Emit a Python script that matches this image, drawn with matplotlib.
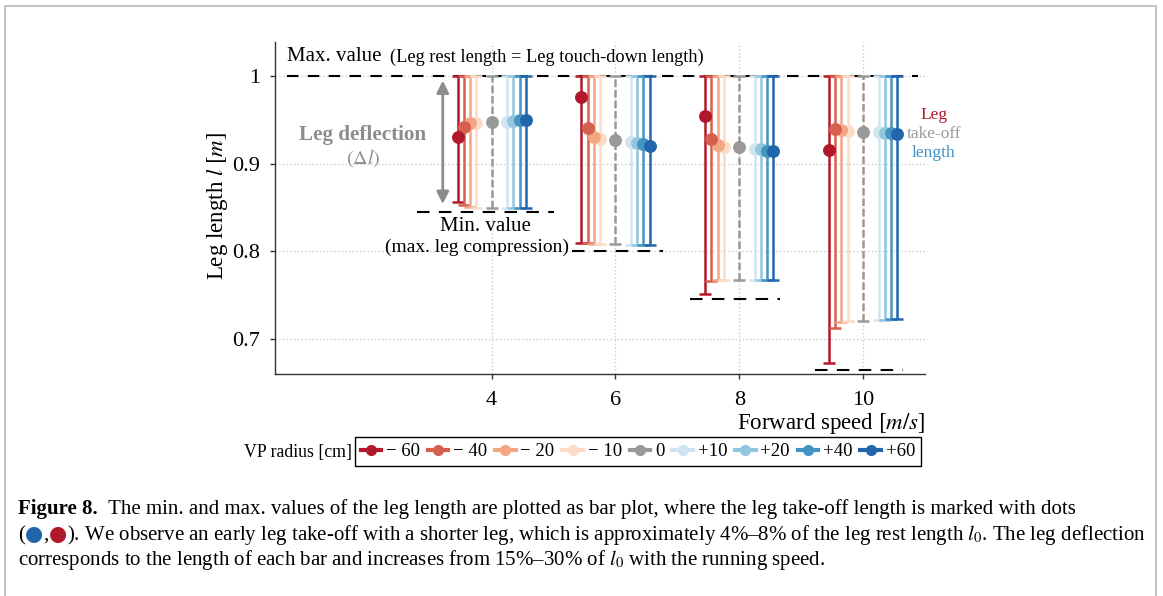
import numpy as np
import matplotlib
matplotlib.use('Agg')
import matplotlib.pyplot as plt
from matplotlib.lines import Line2D

plt.rcParams['font.family'] = ['Liberation Serif', 'DejaVu Serif']
plt.rcParams['mathtext.fontset'] = 'stix'

# forward speed [m/s] and VP radius [cm]
speeds = [4, 6, 8, 10]
vp_labels = ['\u2212 60', '\u2212 40', '\u2212 20', '\u2212 10', '0', '+10', '+20', '+40', '+60']
vp_colors = ['#b2182b', '#d6604d', '#f4a582', '#fddbc7', '#999999',
             '#d1e5f0', '#92c5de', '#4393c3', '#2166ac']

# max. leg length (touch-down) per speed
l_max = [1.0, 1.0, 1.0, 1.0]
# min. leg length (max. compression), rows = speed, cols = VP radius
l_min = np.array([
    [0.856, 0.8525, 0.851, 0.850, 0.850, 0.850, 0.849, 0.849, 0.849],
    [0.810, 0.809, 0.808, 0.808, 0.808, 0.807, 0.807, 0.807, 0.807],
    [0.751, 0.766, 0.767, 0.767, 0.767, 0.767, 0.767, 0.767, 0.767],
    [0.672, 0.713, 0.719, 0.720, 0.721, 0.722, 0.722, 0.723, 0.723],
])
# leg length at take-off
l_takeoff = np.array([
    [0.930, 0.942, 0.946, 0.947, 0.948, 0.948, 0.949, 0.950, 0.950],
    [0.976, 0.941, 0.931, 0.928, 0.927, 0.925, 0.924, 0.922, 0.920],
    [0.954, 0.928, 0.921, 0.919, 0.919, 0.917, 0.917, 0.915, 0.914],
    [0.916, 0.940, 0.938, 0.937, 0.936, 0.936, 0.935, 0.935, 0.934],
])
# overall min. per speed (dashed reference)
min_ref = [0.845, 0.800, 0.746, 0.665]

# bar offsets around each speed and extent of the min. dashed lines
offsets = np.array([-0.55, -0.45, -0.35, -0.25, 0.0, 0.25, 0.35, 0.45, 0.55])
min_span = [(2.8, 5.0), (5.3, 6.76), (7.2, 8.66), (9.23, 10.65)]

W, H = 1163, 596
fig = plt.figure(figsize=(W / 100, H / 100), dpi=100)
ax = fig.add_axes([275 / W, 1 - 374 / H, 650 / W, 332 / H])

ax.plot([0.69, 10.88], [l_max[0], l_max[0]], color='k', lw=1.5, dashes=(5.5, 4.5), zorder=2)

draw_order = [4, 3, 5, 2, 6, 1, 7, 0, 8]
for i, s in enumerate(speeds):
    ax.plot(min_span[i], [min_ref[i], min_ref[i]], color='k', lw=1.5, dashes=(6, 4.5), zorder=2)
    for j in range(len(vp_labels)):
        lo, hi = l_min[i][j], l_max[i]
        eb = ax.errorbar(s + offsets[j], (lo + hi) / 2, yerr=(hi - lo) / 2, fmt='none',
                         ecolor=vp_colors[j], elinewidth=1.8, capsize=4.5, capthick=1.8, zorder=3)
        if j == 4:
            eb[2][0].set_linestyle((0, (3, 1.2)))
    for j in draw_order:
        ax.plot(s + offsets[j], l_takeoff[i][j], 'o', ms=9.3, color=vp_colors[j],
                mec='none', zorder=4)

ax.set_xlim(0.5, 11)
ax.set_ylim(0.66, 1.039)
ax.set_xticks(speeds)
ax.set_yticks([0.7, 0.8, 0.9, 1.0])
ax.set_yticklabels(['0.7', '0.8', '0.9', '1'])
ax.grid(True, ls=':', color='#cccccc', lw=1)
ax.set_axisbelow(True)
ax.spines['top'].set_visible(False)
ax.spines['right'].set_visible(False)
for sp in ['left', 'bottom']:
    ax.spines[sp].set_color('#333333')
    ax.spines[sp].set_linewidth(1.0)
ax.tick_params(direction='out', length=3.5, width=1, color='#333333', labelsize=16)
ax.tick_params(axis='x', pad=9)
ax.tick_params(axis='y', pad=7)

# annotations
ax.text(0.69, 1.022, 'Max. value', fontsize=15, va='center', ha='left')
ax.text(2.35, 1.022, '(Leg rest length = Leg touch-down length)', fontsize=13.2,
        va='center', ha='left')
ax.text(1.91, 0.933, 'Leg deflection', fontsize=15.2, fontweight='bold', color='#8c8c8c',
        ha='center', va='center')
ax.text(1.92, 0.906, r'$(\Delta l)$', fontsize=14.5, color='#8c8c8c', ha='center', va='center')
ax.annotate('', xy=(3.21, 0.854), xytext=(3.21, 0.995),
            arrowprops=dict(arrowstyle='<|-|>', color='#8c8c8c', lw=2, mutation_scale=18,
                            shrinkA=0, shrinkB=0))
ax.text(3.9, 0.828, 'Min. value', fontsize=15, ha='center', va='center')
ax.text(3.77, 0.805, '(max. leg compression)', fontsize=14, ha='center', va='center')
ax.text(11.14, 0.9555, 'Leg', fontsize=12.5, color=vp_colors[0], ha='center', va='center', clip_on=False)
ax.text(11.14, 0.934, 'take-off', fontsize=12.5, color='#999999', ha='center', va='center', clip_on=False)
ax.text(11.14, 0.912, 'length', fontsize=12.5, color=vp_colors[7], ha='center', va='center', clip_on=False)

fig.text(218 / W, 1 - 206 / H, r'Leg length $l$ $[m]$', rotation=90, fontsize=16.5,
         ha='center', va='center')
fig.text(925 / W, 1 - 423 / H, r'Forward speed $[m/s]$', fontsize=16.5, ha='right', va='center')

# legend for VP radius
handles = [Line2D([], [], color=c, lw=3, marker='o', ms=7) for c in vp_colors]
leg = fig.legend(handles, vp_labels, loc='center left', bbox_to_anchor=(355 / W, 1 - 451.5 / H),
                 ncol=9, frameon=True, fancybox=False, edgecolor='k', framealpha=1,
                 fontsize=13.5, handlelength=1.1, handletextpad=0.25, columnspacing=0.42,
                 borderpad=0.3, borderaxespad=0)
leg.get_frame().set_linewidth(1.0)
fig.text(352 / W, 1 - 452 / H, 'VP radius [cm]', fontsize=12.8, ha='right', va='center')

# page frame
fig.add_artist(Line2D([5 / W, 5 / W, 1156 / W, 1156 / W], [0, 1 - 6 / H, 1 - 6 / H, 0],
                      transform=fig.transFigure, color='#c4c4c4', lw=1.5))

# caption, written piece by piece so colours can change inside a line
renderer = fig.canvas.get_renderer()
cap_size = 15


def caption_line(pieces, x, y):
    for s, kw in pieces:
        t = fig.text(x, y, s, va='baseline', fontsize=cap_size, **kw)
        x += t.get_window_extent(renderer).width / W


caption_line([('Figure 8.', dict(fontweight='bold')),
              ('  The min. and max. values of the leg length are plotted as bar plot, '
               'where the leg take-off length is marked with dots', {})],
             18 / W, 1 - 514 / H)
caption_line([('(', {}),
              ('\u25cf', dict(color=vp_colors[8], family='DejaVu Sans')),
              (',', {}),
              ('\u25cf', dict(color=vp_colors[0], family='DejaVu Sans')),
              ('). We observe an early leg take-off with a shorter leg, which is approximately '
               '4%\u20138% of the leg rest length $l_0$. The leg deflection', {})],
             18 / W, 1 - 540 / H)
caption_line([('corresponds to the length of each bar and increases from 15%\u201330% of $l_0$ '
               'with the running speed.', {})],
             18 / W, 1 - 565 / H)

fig.savefig('out.png', dpi=100)
